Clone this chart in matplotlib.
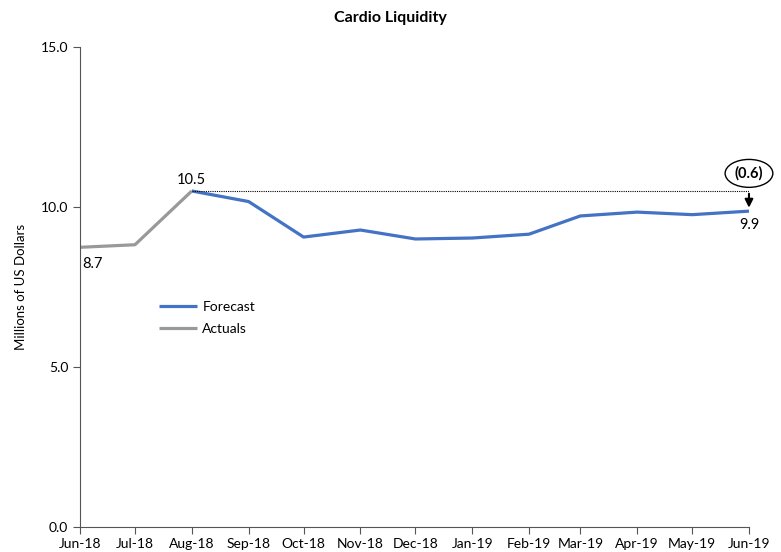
import matplotlib.pyplot as plt
import matplotlib.dates as mdates
import datetime as dt

months = ["2018-06", "2018-07", "2018-08", "2018-09", "2018-10", "2018-11", "2018-12",
          "2019-01", "2019-02", "2019-03", "2019-04", "2019-05", "2019-06"]
dates = [dt.datetime.strptime(m, "%Y-%m") for m in months]

actuals = [8.74, 8.82, 10.5]
forecast = [10.5, 10.17, 9.06, 9.28, 9.0, 9.03, 9.15, 9.72, 9.84, 9.76, 9.87]
gap = -0.6

plt.rcParams['font.family'] = ['Lato', 'DejaVu Sans']

fig = plt.figure(figsize=(7.81, 5.52), dpi=100)
ax = fig.add_axes([0.1024, 0.0453, 0.8566, 0.8696])

blue = "#4472C4"
grey = "#999999"
ax.plot(dates[2:], forecast, color=blue, lw=2.3, label="Forecast", solid_capstyle="butt")
ax.plot(dates[:3], actuals, color=grey, lw=2.3, label="Actuals", solid_capstyle="butt")

# dotted reference line from Aug-18 peak
ax.plot([dates[2], dates[-1]], [actuals[-1], actuals[-1]], color="black", lw=0.8, ls=(0, (1, 1)))
ax.annotate("", xy=(dates[-1], forecast[-1] + 0.02), xytext=(dates[-1], actuals[-1]),
            arrowprops=dict(arrowstyle="-|>", color="black", lw=1.5, mutation_scale=12))
ax.text(dates[-1], 11.05, "(%.1f)" % abs(gap), ha="center", va="center", fontsize=10.5,
        fontweight="bold", bbox=dict(boxstyle="ellipse,pad=0.18", fc="white", ec="black", lw=1))

ax.text(dates[0] + dt.timedelta(days=1), actuals[0] - 0.3, "%.1f" % actuals[0], ha="left", va="top", fontsize=10.5)
ax.text(dates[2], actuals[-1] + 0.12, "%.1f" % actuals[-1], ha="center", va="bottom", fontsize=10.5)
ax.text(dates[-1], forecast[-1] - 0.22, "%.1f" % forecast[-1], ha="center", va="top", fontsize=10.5)

ax.set_xlim(dates[0], dates[-1])
ax.set_ylim(0, 15)
ax.set_yticks([0, 5, 10, 15])
ax.yaxis.set_major_formatter(plt.FuncFormatter(lambda v, p: "%.1f" % v))
ax.set_xticks(dates)
ax.xaxis.set_major_formatter(mdates.DateFormatter("%b-%y"))
ax.tick_params(axis="both", direction="out", length=5, color="#555555", labelsize=10)
ax.tick_params(axis="x", pad=3)

for s in ["top", "right"]:
    ax.spines[s].set_visible(False)
ax.spines["left"].set_color("#555555")
ax.spines["bottom"].set_color("#555555")

ax.set_ylabel("Millions of US Dollars", fontsize=9.5, labelpad=10)
fig.suptitle("Cardio Liquidity", fontsize=11.5, fontweight="bold", y=0.98)

ax.legend(loc="upper left", bbox_to_anchor=(0.1, 0.497), frameon=False, fontsize=10,
          handlelength=2.7, handletextpad=0.4, labelspacing=0.75)

fig.savefig("out.png", dpi=100)
